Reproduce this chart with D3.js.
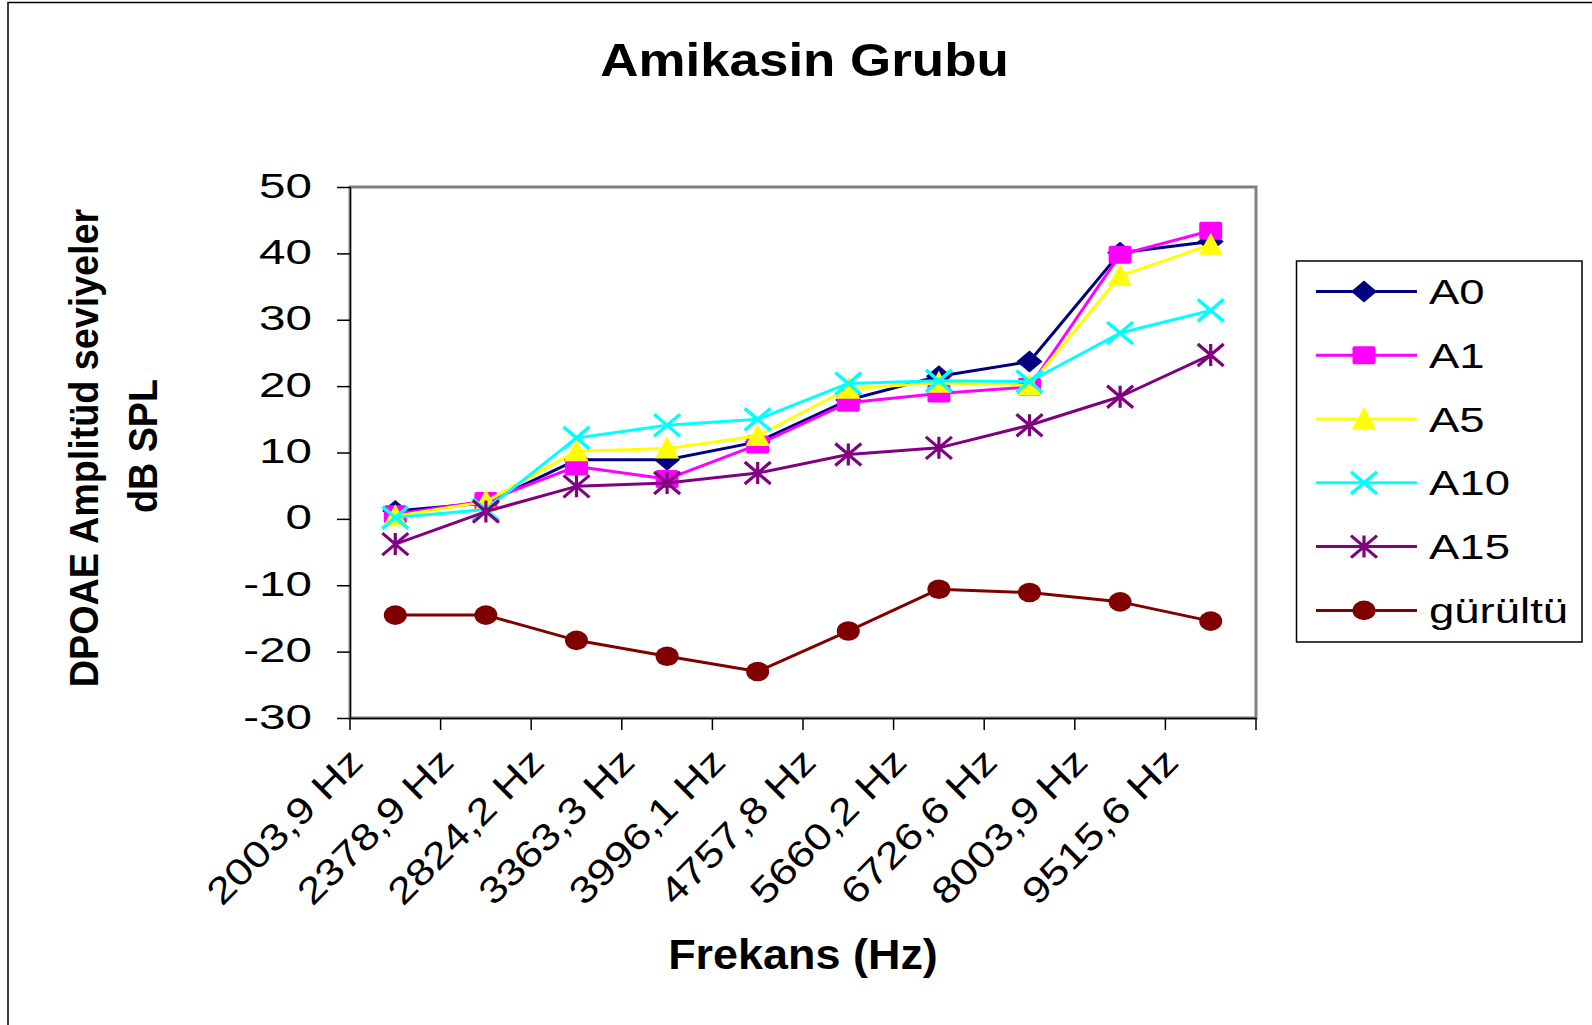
<!DOCTYPE html>
<html>
<head>
<meta charset="utf-8">
<script src="https://cdnjs.cloudflare.com/ajax/libs/d3/7.8.5/d3.min.js"></script>
<style>
  html, body { margin: 0; padding: 0; background: #fff; }
  svg { display: block; }
  text { font-family: "Liberation Sans", Arial, sans-serif; fill: #000; }
</style>
</head>
<body>
<svg id="chart" width="1592" height="1025"></svg>
<script>
// ---------- data ----------
const categories = ["2003,9 Hz","2378,9 Hz","2824,2 Hz","3363,3 Hz","3996,1 Hz","4757,8 Hz","5660,2 Hz","6726,6 Hz","8003,9 Hz","9515,6 Hz"];
const seriesNames = ["A0","A1","A5","A10","A15","gürültü"];
const A0    = [1.2, 2.4, 8.9, 8.9, 11.6, 17.9, 21.5, 23.7, 40.1, 41.8];
const A1    = [0.7, 2.7, 7.9, 6.0, 11.2, 17.5, 18.9, 19.9, 39.8, 43.4];
const A5    = [0.4, 2.6, 10.2, 10.6, 12.5, 19.6, 20.5, 20.1, 36.6, 41.3];
const A10   = [0.2, 1.4, 12.2, 14.1, 15.0, 20.4, 20.8, 20.7, 28.0, 31.4];
const A15   = [-3.8, 1.1, 4.9, 5.4, 6.9, 9.7, 10.7, 14.1, 18.4, 24.7];
const gurultu = [-14.5, -14.5, -18.3, -20.7, -23.0, -16.9, -10.6, -11.1, -12.5, -15.4];
const yTicks = [-30, -20, -10, 0, 10, 20, 30, 40, 50];
const titleText = "Amikasin Grubu";
const xTitle = "Frekans (Hz)";
const yTitle1 = "DPOAE Amplitüd seviyeler";
const yTitle2 = "dB SPL";

const seriesValues = [A0, A1, A5, A10, A15, gurultu];
const seriesColors = ["#000080", "#FF00FF", "#FFFF00", "#00FFFF", "#800080", "#800000"];
const seriesMarkers = ["diamond", "square", "triangle", "x", "star", "circle"];

// ---------- layout ----------
const svg = d3.select("#chart");
const plot = { left: 350, right: 1256, top: 187, bottom: 718 };

const x = d3.scaleBand().domain(categories).range([plot.left, plot.right]).padding(0);
const y = d3.scaleLinear().domain([-30, 50]).range([plot.bottom, plot.top]);
const cx = c => x(c) + x.bandwidth() / 2;

// outer border
svg.append("rect").attr("x", 8).attr("y", 2.5).attr("width", 1700).attr("height", 1200)
  .attr("fill", "none").attr("stroke", "#000").attr("stroke-width", 1.5);

// plot area border
svg.append("rect")
  .attr("x", plot.left).attr("y", plot.top)
  .attr("width", plot.right - plot.left).attr("height", plot.bottom - plot.top)
  .attr("fill", "#fff").attr("stroke", "#808080").attr("stroke-width", 3);

// helper for horizontally stretched text
function stretchedText(g, str, tx, ty, opts) {
  const t = g.append("text")
    .attr("transform", `translate(${tx},${ty})` + (opts.rotate ? ` rotate(${opts.rotate})` : "") + ` scale(${opts.sx || 1},1)`)
    .attr("text-anchor", opts.anchor || "start")
    .attr("font-size", opts.size)
    .attr("font-weight", opts.weight || "normal")
    .text(str);
  return t;
}

// y axis
const yAxis = d3.axisLeft(y).tickValues(yTicks).tickSize(13).tickFormat("");
const yg = svg.append("g").attr("transform", `translate(${plot.left},0)`).call(yAxis);
yg.select(".domain").attr("stroke", "#000").attr("stroke-width", 1.2);
yg.selectAll(".tick line").attr("stroke", "#000").attr("stroke-width", 1.5);
yTicks.forEach(v => {
  stretchedText(svg, String(v), 312, y(v) + 10.5, { size: 35, sx: 1.36, anchor: "end" });
});

// x axis
const xAxis = d3.axisBottom(x).tickSize(0).tickFormat("");
const xg = svg.append("g").attr("transform", `translate(0,${plot.bottom})`).call(xAxis);
xg.select(".domain").attr("stroke", "#000").attr("stroke-width", 1.5);
const bounds = categories.map(c => x(c)).concat([plot.right]);
xg.selectAll(".xtick").data(bounds).enter().append("line")
  .attr("class", "xtick")
  .attr("x1", d => d).attr("x2", d => d)
  .attr("y1", 0).attr("y2", 12)
  .attr("stroke", "#000").attr("stroke-width", 1.5);
categories.forEach(c => {
  stretchedText(svg, c, x(c) + 15, 764, { size: 37, sx: 1.2, anchor: "end", rotate: -45 });
});

// titles
stretchedText(svg, titleText, 804.5, 76, { size: 46, sx: 1.15, anchor: "middle", weight: "bold" });
stretchedText(svg, xTitle, 803, 969, { size: 42, sx: 1.07, anchor: "middle", weight: "bold" });
stretchedText(svg, yTitle1, 98, 448, { size: 41, sx: 0.92, anchor: "middle", weight: "bold", rotate: -90 });
stretchedText(svg, yTitle2, 157, 446, { size: 41, sx: 0.92, anchor: "middle", weight: "bold", rotate: -90 });

// marker drawing
function drawMarker(g, type, px, py, color) {
  const w = 13, h = 11;
  if (type === "diamond") {
    g.append("path").attr("d", `M${px},${py - h}L${px + w},${py}L${px},${py + h}L${px - w},${py}Z`).attr("fill", color);
  } else if (type === "square") {
    g.append("rect").attr("x", px - 11.5).attr("y", py - 9).attr("width", 23).attr("height", 18)
      .attr("rx", 2).attr("fill", color);
  } else if (type === "triangle") {
    g.append("path").attr("d", `M${px},${py - 12}L${px + 12},${py + 10}L${px - 12},${py + 10}Z`).attr("fill", color);
  } else if (type === "x") {
    g.append("path").attr("d", `M${px - w},${py - h}L${px + w},${py + h}M${px - w},${py + h}L${px + w},${py - h}`)
      .attr("stroke", color).attr("stroke-width", 3.5).attr("fill", "none");
  } else if (type === "star") {
    g.append("path").attr("d", `M${px - w},${py - h}L${px + w},${py + h}M${px - w},${py + h}L${px + w},${py - h}M${px},${py - h}L${px},${py + h}`)
      .attr("stroke", color).attr("stroke-width", 3.2).attr("fill", "none");
  } else if (type === "circle") {
    g.append("ellipse").attr("cx", px).attr("cy", py).attr("rx", 11.5).attr("ry", 9.8).attr("fill", color);
  }
}

// series
const line = d3.line().x((d, i) => cx(categories[i])).y(d => y(d));
seriesValues.forEach((vals, si) => {
  const g = svg.append("g");
  g.append("path").attr("d", line(vals)).attr("fill", "none")
    .attr("stroke", seriesColors[si]).attr("stroke-width", 3).attr("stroke-linejoin", "round");
  vals.forEach((v, i) => drawMarker(g, seriesMarkers[si], cx(categories[i]), y(v), seriesColors[si]));
});

// legend
const lg = svg.append("g");
lg.append("rect").attr("x", 1296.5).attr("y", 261).attr("width", 285.5).attr("height", 381)
  .attr("fill", "#fff").attr("stroke", "#000").attr("stroke-width", 1.5);
seriesNames.forEach((name, i) => {
  const ly = 291.4 + i * 63.8;
  lg.append("line").attr("x1", 1316).attr("x2", 1417).attr("y1", ly).attr("y2", ly)
    .attr("stroke", seriesColors[i]).attr("stroke-width", 3);
  drawMarker(lg, seriesMarkers[i], 1364, ly, seriesColors[i]);
  stretchedText(lg, name, 1429, ly + 12.5, { size: 35, sx: 1.3, anchor: "start" });
});
</script>
</body>
</html>
